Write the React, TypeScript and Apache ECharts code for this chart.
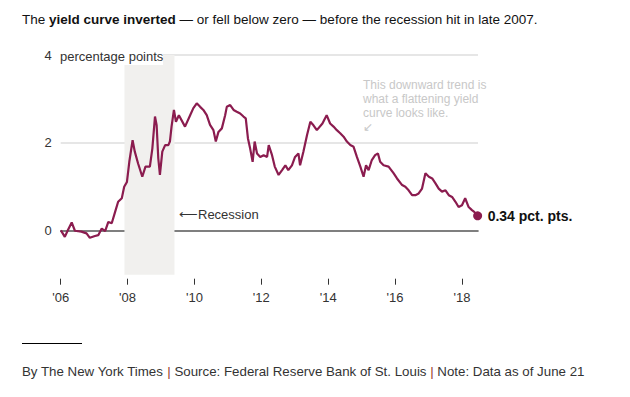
import React, { useEffect, useRef } from "react";
import * as echarts from "echarts";

// 10-year minus 2-year Treasury spread, percentage points
const dates = [
  "2006-01-03", "2006-02-15", "2006-03-20", "2006-05-01", "2006-06-05", "2006-08-15",
  "2006-10-10", "2006-11-15", "2007-01-10", "2007-02-15", "2007-03-25", "2007-05-01",
  "2007-06-05", "2007-07-12", "2007-08-18", "2007-09-20", "2007-10-30", "2007-11-25",
  "2007-12-25", "2008-01-20", "2008-02-25", "2008-03-20", "2008-04-25", "2008-06-10",
  "2008-07-15", "2008-09-01", "2008-09-28", "2008-10-27", "2008-11-14", "2008-12-02",
  "2008-12-20", "2009-01-15", "2009-02-15", "2009-03-22", "2009-04-08", "2009-04-26",
  "2009-05-22", "2009-06-13", "2009-07-15", "2009-09-20", "2009-11-15", "2009-12-20",
  "2010-01-26", "2010-03-04", "2010-04-08", "2010-05-15", "2010-06-20", "2010-07-27",
  "2010-08-22", "2010-09-20", "2010-10-27", "2010-12-02", "2010-12-20", "2011-01-26",
  "2011-03-04", "2011-04-08", "2011-05-15", "2011-06-20", "2011-07-15", "2011-08-08",
  "2011-09-01", "2011-09-28", "2011-10-20", "2011-11-15", "2011-12-20", "2012-01-26",
  "2012-03-04", "2012-03-22", "2012-04-27", "2012-05-27", "2012-07-08", "2012-08-15",
  "2012-09-20", "2012-10-22", "2012-12-01", "2013-01-04", "2013-02-10", "2013-02-28",
  "2013-04-05", "2013-05-15", "2013-06-20", "2013-07-24", "2013-08-30", "2013-10-30",
  "2013-12-15", "2014-01-22", "2014-02-28", "2014-04-05", "2014-05-12", "2014-06-18",
  "2014-07-24", "2014-08-30", "2014-10-05", "2014-11-10", "2014-12-18", "2015-01-22",
  "2015-02-18", "2015-03-18", "2015-04-22", "2015-05-28", "2015-06-28", "2015-07-22",
  "2015-08-28", "2015-10-22", "2015-12-15", "2016-01-22", "2016-03-18", "2016-04-22",
  "2016-05-28", "2016-07-05", "2016-08-10", "2016-09-15", "2016-10-22", "2016-11-28",
  "2017-01-05", "2017-02-10", "2017-03-18", "2017-04-22", "2017-05-28", "2017-07-05",
  "2017-08-10", "2017-09-15", "2017-10-22", "2017-11-25", "2018-01-01", "2018-02-05",
  "2018-03-15", "2018-04-20", "2018-05-15", "2018-06-21",
];
const spread = [
  0.01, -0.14, 0.01, 0.19, 0.0, -0.02,
  -0.06, -0.16, -0.12, -0.1, 0.05, -0.01,
  0.2, 0.17, 0.43, 0.66, 0.74, 1.0,
  1.11, 1.57, 2.06, 1.8, 1.53, 1.23,
  1.46, 1.46, 1.87, 2.6, 2.4, 1.65,
  1.27, 1.8, 1.95, 1.95, 2.03, 2.37,
  2.75, 2.48, 2.63, 2.37, 2.63, 2.79,
  2.9, 2.82, 2.75, 2.63, 2.41, 2.29,
  2.03, 2.25, 2.33, 2.63, 2.82, 2.86,
  2.75, 2.71, 2.67, 2.6, 2.56, 2.1,
  1.87, 1.57, 2.03, 1.76, 1.68, 1.72,
  1.68, 1.95, 1.72, 1.46, 1.27, 1.38,
  1.49, 1.38, 1.49, 1.68, 1.76, 1.49,
  1.8, 2.18, 2.48, 2.4, 2.29, 2.44,
  2.63, 2.44, 2.37, 2.29, 2.22, 2.14,
  2.03, 1.95, 1.91, 1.68, 1.46, 1.23,
  1.49, 1.38, 1.61, 1.72, 1.76, 1.57,
  1.49, 1.46, 1.31, 1.19, 1.04, 1.0,
  0.92, 0.81, 0.81, 0.85, 0.96, 1.31,
  1.23, 1.19, 1.08, 0.96, 0.89, 0.92,
  0.81, 0.77, 0.66, 0.54, 0.58, 0.74,
  0.54, 0.47, 0.43, 0.34,
];
const xTickYears = [2006, 2008, 2010, 2012, 2014, 2016, 2018];
const yLabelValues = [0, 2, 4];
const yGridValues = [2, 4];
const recession = ["2007-11-28", "2009-05-28"];
const xRange = ["2006-01-01", "2018-06-25"];
const yRange = [-1, 4];
const endLabelText = "0.34 pct. pts.";
const unitLabel = "percentage points";
const recessionLabel = "\u27F5Recession";
const noteText = "This downward trend is\nwhat a flattening yield\ncurve looks like.\n\u2199";

const FONT = "'Liberation Sans', Arial, sans-serif";

// date string -> fractional year
function yr(d: string): number {
  const [y, m, day] = d.split("-").map(Number);
  const start = Date.UTC(y, 0, 1);
  const end = Date.UTC(y + 1, 0, 1);
  return y + (Date.UTC(y, m - 1, day) - start) / (end - start);
}

export default function App() {
  const ref = useRef<HTMLDivElement>(null);
  useEffect(() => {
    if (!ref.current) return;
    const chart = echarts.init(ref.current, null, { renderer: "svg" });
    const data = dates.map((d, i) => [yr(d), spread[i]]);
    const last = data[data.length - 1];
    chart.setOption({
      animation: false,
      textStyle: { fontFamily: FONT },
      grid: { left: 60.7, right: 152, top: 55, bottom: 122.3 },
      xAxis: [
        {
          type: "value",
          min: yr(xRange[0]),
          max: yr(xRange[1]),
          position: "bottom",
          offset: 4,
          axisLine: { show: false, onZero: false },
          axisTick: {
            show: true,
            length: 6,
            customValues: xTickYears,
            lineStyle: { color: "#333", width: 1 },
          },
          axisLabel: {
            customValues: xTickYears,
            margin: 12,
            fontSize: 13,
            color: "#333",
            fontFamily: FONT,
            formatter: (v: number) => "'" + String(Math.round(v)).slice(2),
          },
          splitLine: { show: false },
        },
        {
          type: "value",
          min: yr(xRange[0]),
          max: yr(xRange[1]),
          position: "bottom",
          axisLine: { show: true, onZero: true, lineStyle: { color: "#555", width: 1.6 } },
          axisTick: { show: false },
          axisLabel: { show: false },
          splitLine: { show: false },
        },
      ],
      yAxis: {
        type: "value",
        min: yRange[0],
        max: yRange[1],
        axisLine: { show: false },
        axisTick: { show: false, customValues: yGridValues },
        axisLabel: {
          customValues: yLabelValues,
          margin: 9,
          fontSize: 13,
          color: "#333",
          fontFamily: FONT,
        },
        splitLine: { show: true, lineStyle: { color: "#e6e6e6", width: 1.8 } },
      },
      series: [
        {
          type: "line",
          xAxisIndex: 0,
          data,
          symbol: "none",
          lineStyle: { color: "#8b1c4f", width: 2.2 },
          endLabel: {
            show: true,
            formatter: endLabelText,
            fontWeight: "bold",
            fontSize: 14,
            color: "#111",
            distance: 10,
            fontFamily: FONT,
          },
          markArea: {
            silent: true,
            itemStyle: { color: "#f1f0ee" },
            data: [[{ xAxis: yr(recession[0]) }, { xAxis: yr(recession[1]) }]],
          },
          markPoint: {
            silent: true,
            symbol: "circle",
            symbolSize: 9,
            itemStyle: { color: "#8b1c4f" },
            label: { show: false },
            data: [{ coord: last }],
          },
        },
      ],
      graphic: [
        {
          type: "text",
          z: 100,
          x: 22,
          y: 19,
          style: {
            text: "The {b|yield curve inverted} — or fell below zero — before the recession hit in late 2007.",
            fontSize: 13.5,
            fontFamily: FONT,
            fill: "#121212",
            verticalAlign: "middle",
            rich: { b: { fontWeight: "bold", fontSize: 13.5, fontFamily: FONT, fill: "#121212" } },
          },
        },
        {
          type: "rect",
          z: 100,
          shape: { x: 57, y: 45, width: 106, height: 20 },
          style: { fill: "#ffffff" },
        },
        {
          type: "text",
          z: 101,
          x: 60,
          y: 56.5,
          style: {
            text: unitLabel,
            fontSize: 13,
            fontFamily: FONT,
            fill: "#333",
            verticalAlign: "middle",
          },
        },
        {
          type: "text",
          z: 100,
          x: 179,
          y: 214.5,
          style: {
            text: recessionLabel,
            fontSize: 13,
            fontFamily: FONT,
            fill: "#333",
            verticalAlign: "middle",
          },
        },
        {
          type: "text",
          z: 100,
          x: 363,
          y: 78,
          style: {
            text: noteText,
            fontSize: 12,
            lineHeight: 14,
            fontFamily: FONT,
            fill: "#c8c8c8",
            verticalAlign: "top",
          },
        },
        {
          type: "line",
          z: 100,
          shape: { x1: 22, y1: 343.5, x2: 82, y2: 343.5 },
          style: { stroke: "#000", lineWidth: 1 },
        },
        {
          type: "text",
          z: 100,
          x: 22,
          y: 371,
          style: {
            text: "By The New York Times {s||} Source: Federal Reserve Bank of St. Louis {s||} Note: Data as of June 21",
            fontSize: 13.3,
            fontFamily: FONT,
            fill: "#333",
            verticalAlign: "middle",
            rich: { s: { fill: "#9a3a2a", fontSize: 13.3, fontFamily: FONT } },
          },
        },
      ],
    });
    return () => chart.dispose();
  }, []);
  return (
    <div
      ref={ref}
      style={{ position: "absolute", left: 0, top: 0, width: 630, height: 397, background: "#fff" }}
    />
  );
}
